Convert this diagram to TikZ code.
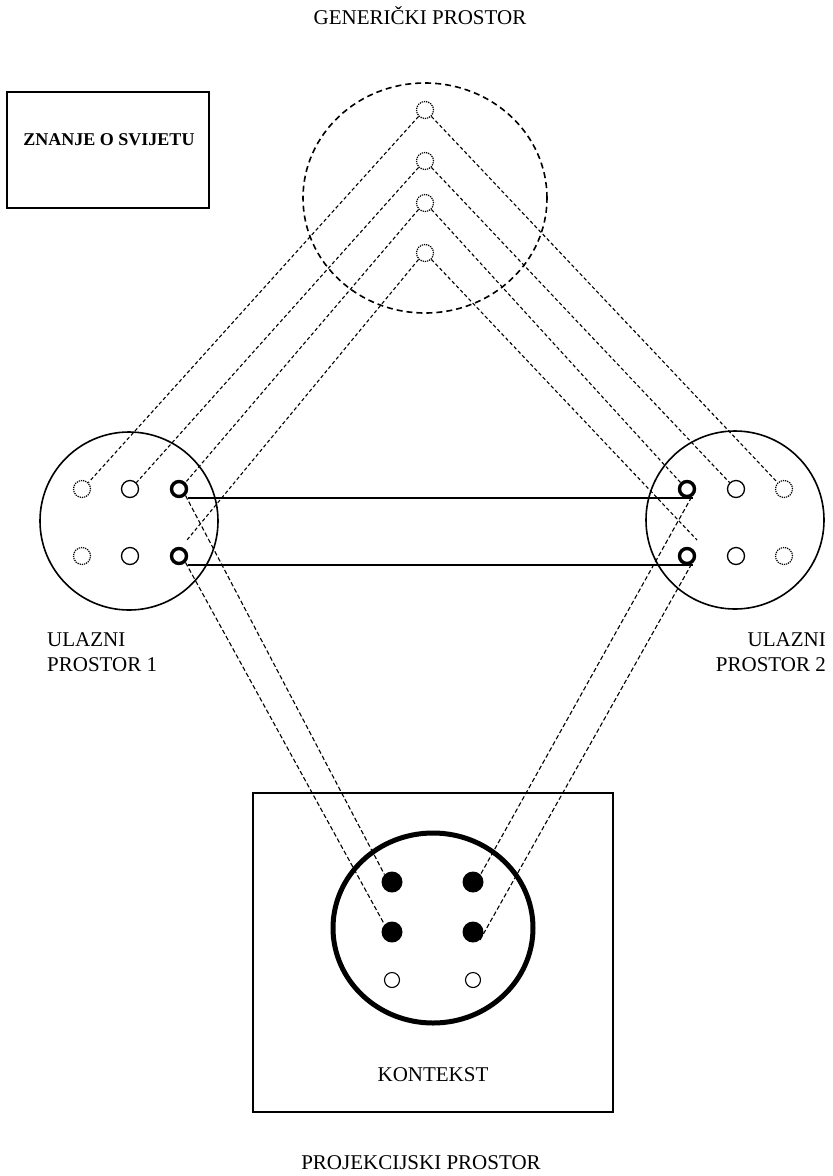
\documentclass[tikz,border=0pt]{standalone}
\usepackage{fontspec}
\setmainfont{Liberation Serif}
\usetikzlibrary{shapes.geometric}
\begin{document}
\begin{tikzpicture}[x=1pt,y=-1pt,
  lbl/.style={font=\fontsize{21}{25}\selectfont, inner sep=0pt},
  space/.style={circle, draw, line width=1.6pt, minimum size=178pt, inner sep=0pt},
  ddot/.style={circle, draw, densely dotted, line width=1.2pt, minimum size=17pt, inner sep=0pt},
  odot/.style={circle, draw, line width=1.3pt, minimum size=17pt, inner sep=0pt},
  tdot/.style={circle, draw, line width=3.4pt, minimum size=15pt, inner sep=0pt},
  fdot/.style={circle, fill, minimum size=21pt, inner sep=0pt},
  sdot/.style={circle, draw, line width=1.1pt, minimum size=15pt, inner sep=0pt},
  link/.style={line width=1.1pt, dash pattern=on 3.5pt off 2.5pt},
  plink/.style={line width=1.1pt, dash pattern=on 4.5pt off 2.5pt},
  bond/.style={line width=2.4pt},
]
\useasboundingbox (0,0) rectangle (833,1176);

% labels
\node[lbl] (tgen) at (420,16) {GENERIČKI PROSTOR};
\node[lbl, anchor=west, align=left] (tin1) at (47,652) {ULAZNI\\PROSTOR 1};
\node[lbl, anchor=east, align=right] (tin2) at (826,652) {ULAZNI\\PROSTOR 2};
\node[lbl] (tkon) at (433,1075) {KONTEKST};
\node[lbl] (tproj) at (421,1163) {PROJEKCIJSKI PROSTOR};

% knowledge box
\node[draw, line width=1.5pt, minimum width=202pt, minimum height=116pt, inner sep=0pt] (kbox) at (108,150) {};
\node[font=\bfseries\fontsize{18}{21}\selectfont, inner sep=0pt] (ktext) at (109,140) {ZNANJE O SVIJETU};

% generic space
\node[ellipse, draw, line width=1.6pt, dash pattern=on 6pt off 4pt, minimum width=244pt, minimum height=230pt, inner sep=0pt] (gen) at (425,198) {};
\node[ddot] (g1) at (425,110) {};
\node[ddot] (g2) at (425,161) {};
\node[ddot] (g3) at (425,203) {};
\node[ddot] (g4) at (425,253) {};

% input space 1
\node[space] (s1) at (129,521) {};
\node[ddot] (D1) at (82,489) {};
\node[odot] (O1) at (130,489) {};
\node[tdot] (T1) at (179,489) {};
\node[ddot] (D2) at (82,556) {};
\node[odot] (O2) at (130,556) {};
\node[tdot] (T2) at (179,556) {};

% input space 2
\node[space] (s2) at (735,520) {};
\node[tdot] (T3) at (687,489) {};
\node[odot] (O3) at (736,489) {};
\node[ddot] (D3) at (784,489) {};
\node[tdot] (T4) at (687,556) {};
\node[odot] (O4) at (736,556) {};
\node[ddot] (D4) at (784,556) {};

% blend / projection space
\node[draw, line width=1.5pt, minimum width=360pt, minimum height=319pt, inner sep=0pt] (pbox) at (433,952.5) {};
\node[ellipse, draw, line width=5pt, minimum width=200pt, minimum height=190pt, inner sep=0pt] (ctx) at (433,928) {};
\node[fdot] (F1) at (392,882) {};
\node[fdot] (F2) at (473,882) {};
\node[fdot] (F3) at (392,932) {};
\node[fdot] (F4) at (473,932) {};
\node[sdot] (B1) at (392,980) {};
\node[sdot] (B2) at (473,980) {};

\coordinate (e4L) at (187,540);
\coordinate (e4R) at (697,540);

% generic -> inputs
\draw[link] (g1.225) -- (D1.45);
\draw[link] (g2.225) -- (O1.45);
\draw[link] (g3.225) -- (T1.45);
\draw[link] (g4.225) -- (e4L);
\draw[link] (g1.315) -- (D3.135);
\draw[link] (g2.315) -- (O3.135);
\draw[link] (g3.315) -- (T3.135);
\draw[link] (g4.315) -- (e4R);

% inputs -> blend
\draw[plink] (T1.south east) -- (F1.north west);
\draw[plink] (T2.south east) -- (F3.north west);
\draw[plink] (T3.-60) -- (F2.north east);
\draw[plink] (T4.-60) -- (F4.-50);

% cross-space mappings
\draw[bond] ([xshift=9pt]T1.south) -- ([xshift=6pt]T3.south);
\draw[bond] ([xshift=9pt]T2.south) -- ([xshift=6pt]T4.south);
\end{tikzpicture}
\end{document}
